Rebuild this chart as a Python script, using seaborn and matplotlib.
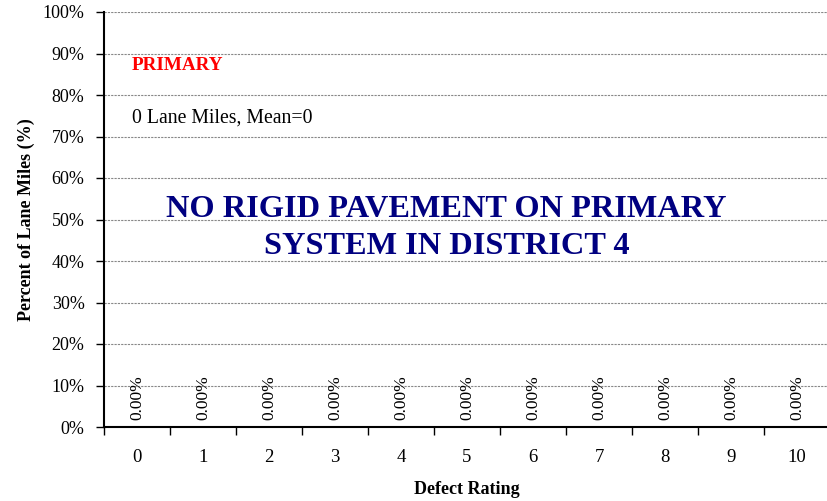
import matplotlib
matplotlib.use("Agg")
import matplotlib.pyplot as plt
import seaborn as sns
import numpy as np
import pandas as pd

# data
ratings = [str(i) for i in range(11)]
percent = [0.0] * 11
system_name = "PRIMARY"
lane_miles = 0
mean_rating = 0
message = "NO RIGID PAVEMENT ON PRIMARY\nSYSTEM IN DISTRICT 4"

df = pd.DataFrame({"rating": ratings, "percent": percent})

sns.set_theme(style="white")
plt.rcParams["font.family"] = ["Liberation Serif", "DejaVu Serif"]
plt.rcParams["text.color"] = "black"
plt.rcParams["xtick.color"] = "black"
plt.rcParams["ytick.color"] = "black"
plt.rcParams["axes.labelcolor"] = "black"

fig = plt.figure(figsize=(8.28, 5.01), dpi=100)
ax = fig.add_axes([104 / 828, 1 - 427 / 501, 726 / 828, 415 / 501])

sns.barplot(data=df, x="rating", y="percent", color="#9999ff", ax=ax)

ax.set_ylim(0, 1.0)
ax.set_xlim(-0.5, 10.5)
yt = np.arange(0, 1.01, 0.1)
ax.set_yticks(yt)
ax.set_yticklabels([f"{int(round(v * 100))}%" for v in yt], fontsize=13)
ax.yaxis.grid(True, color="#888888", linestyle=(0, (2, 1)), linewidth=0.8)
ax.set_axisbelow(True)

# ticks between categories
ax.set_xticks(np.arange(-0.5, 10.6, 1), minor=False)
ax.set_xticklabels([])
ax.set_xticks(np.arange(0, 11), minor=True)
ax.set_xticklabels(ratings, minor=True, fontsize=13.5)
ax.tick_params(axis="x", which="major", direction="out", length=6, width=1, color="black", bottom=True)
ax.tick_params(axis="x", which="minor", length=0, pad=16)
ax.tick_params(axis="y", direction="out", length=6, width=1, color="black", left=True, pad=8)

for side in ["top", "right"]:
    ax.spines[side].set_visible(False)
for side in ["left", "bottom"]:
    ax.spines[side].set_color("black")
    ax.spines[side].set_linewidth(1.5)

# value labels
for i, v in enumerate(percent):
    ax.text(i, v + 0.017, f"{v * 100:.2f}%", rotation=90, ha="center", va="bottom", fontsize=12.5)

ax.text(0.038, 0.87, system_name, transform=ax.transAxes, color="red",
        fontweight="bold", fontsize=13.8, va="center", ha="left")
ax.text(0.038, 0.745, f"{lane_miles} Lane Miles, Mean={mean_rating}", transform=ax.transAxes,
        fontsize=14.2, va="center", ha="left")
ax.text(0.472, 0.48, message, transform=ax.transAxes, color="#000080",
        fontweight="bold", fontsize=23.3, ha="center", va="center", linespacing=1.35)

ax.set_xlabel("Defect Rating", fontweight="bold", fontsize=13)
ax.set_ylabel("Percent of Lane Miles (%)", fontweight="bold", fontsize=13)
ax.xaxis.set_label_coords(0.5, (427 - 481) / 415)
ax.yaxis.set_label_coords((35 - 104) / 726, 0.5)

fig.savefig("out.png", dpi=100)
